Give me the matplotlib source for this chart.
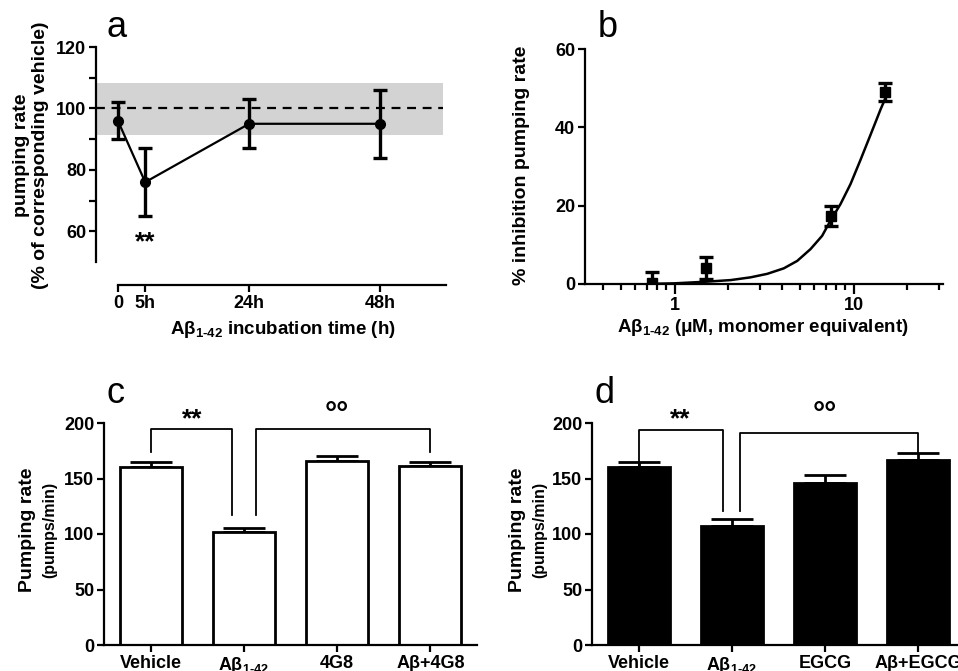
import matplotlib
matplotlib.use("Agg")
import matplotlib.pyplot as plt
from matplotlib.ticker import LogLocator, NullFormatter

# panel a: time course
hours = [0, 5, 24, 48]
hour_labels = ["0", "5h", "24h", "48h"]
rate_pct = [96, 76, 95, 95]
rate_pct_err = [6, 11, 8, 11]
vehicle_band = (91.2, 108.2)

# panel b: dose response (points + fitted curve)
conc_um = [0.75, 1.5, 7.5, 15]
inhibition = [0.3, 4.2, 17.3, 48.9]
inhibition_err = [2.7, 2.8, 2.5, 2.3]
fit_conc = [0.75, 1.0, 1.52, 2.06, 2.66, 3.30, 4.08, 4.85, 5.75, 6.68, 7.44,
            8.46, 9.62, 10.9, 12.4, 14.2, 15.1]
fit_inhib = [0.05, 0.17, 0.6, 1.0, 1.7, 2.6, 4.0, 5.9, 8.9, 12.3, 16.2,
             20.4, 25.5, 31.5, 37.9, 44.7, 47.5]

# panels c and d: bars
groups_c = ["Vehicle", "Aβ$_\\mathbf{1\\text{-}42}$", "4G8", "Aβ+4G8"]
pump_c = [160, 101.5, 166, 161.5]
pump_c_err = [5, 4, 4.5, 3]
groups_d = ["Vehicle", "Aβ$_\\mathbf{1\\text{-}42}$", "EGCG", "Aβ+EGCG"]
pump_d = [160.5, 107, 145.5, 166.5]
pump_d_err = [4.5, 6.5, 7.5, 6.5]

plt.rcParams["font.family"] = ["Liberation Sans", "DejaVu Sans"]
plt.rcParams["font.weight"] = "bold"
plt.rcParams["mathtext.fontset"] = "custom"
plt.rcParams["mathtext.bf"] = "Liberation Sans:bold"
plt.rcParams["mathtext.rm"] = "Liberation Sans:bold"

TICK = 13
LW = 1.6

fig = plt.figure(figsize=(9.58, 6.71), dpi=100)
W, H = 958.0, 671.0


def px(x, y):
    return x / W, 1 - y / H


def style(ax):
    for s in ("top", "right"):
        ax.spines[s].set_visible(False)
    for s in ("left", "bottom"):
        ax.spines[s].set_linewidth(LW)
    ax.tick_params(which="both", direction="out", width=LW, labelsize=TICK, pad=2)
    ax.tick_params(which="major", length=5)
    ax.tick_params(which="minor", length=4)
    for lab in ax.get_xticklabels() + ax.get_yticklabels():
        lab.set_fontweight("bold")


# ---- a
axa = fig.add_axes([96 / W, 1 - 262 / H, 350 / W, 215 / H])
axa.axhspan(*vehicle_band, xmin=0, xmax=0.99, color="#d3d3d3", lw=0, zorder=0)
axa.axhline(100, xmin=0, xmax=0.99, color="black", lw=1.6, ls=(0, (4, 3)), zorder=1)
axa.errorbar(hours, rate_pct, yerr=rate_pct_err, color="black", lw=1.6, marker="o",
             ms=7, elinewidth=2.4, capsize=5, capthick=2.4, zorder=3)
axa.set_xlim(-4, 60)
axa.set_ylim(50, 120)
axa.set_yticks([60, 80, 100, 120])
axa.set_yticks([70, 90, 110], minor=True)
axa.set_xticks(hours)
axa.set_xticklabels(hour_labels)
axa.spines["bottom"].set_position(("outward", 16.5))
axa.spines["bottom"].set_bounds(0, 60)
axa.spines["left"].set_bounds(50, 120)
style(axa)
axa.tick_params(axis="y", which="minor", length=5)
axa.text(5, 56.5, "**", ha="center", va="center", fontsize=19)
fig.text(*px(31, 155), "pumping rate\n(% of corresponding vehicle)", rotation=90,
         ha="center", va="center", fontsize=14, linespacing=1.1)
fig.text(*px(283, 330), "Aβ$_\\mathbf{1\\text{-}42}$ incubation time (h)",
         ha="center", va="center", fontsize=13.5)
fig.text(*px(106, 37), "a", fontsize=26, fontweight="normal", va="baseline")

# ---- b
axb = fig.add_axes([585 / W, 1 - 284 / H, 358 / W, 235 / H])
axb.plot(fit_conc, fit_inhib, color="black", lw=1.8, zorder=2)
axb.errorbar(conc_um, inhibition, yerr=inhibition_err, fmt="s", color="black", ms=7,
             elinewidth=2.4, capsize=5, capthick=2.4, zorder=3)
axb.set_xscale("log")
axb.set_xlim(10 ** -0.5, 10 ** 1.5)
axb.set_ylim(0, 60)
axb.set_yticks([0, 20, 40, 60])
axb.set_xticks([1, 10])
axb.set_xticklabels(["1", "10"])
axb.xaxis.set_minor_locator(LogLocator(base=10, subs=[2, 3, 4, 5, 6, 7, 8, 9]))
axb.xaxis.set_minor_formatter(NullFormatter())
style(axb)
axb.tick_params(axis="x", which="major", length=7)
fig.text(*px(522, 165), "% inhibition pumping rate", rotation=90,
         ha="center", va="center", fontsize=14)
fig.text(*px(763, 328), "Aβ$_\\mathbf{1\\text{-}42}$ (μM, monomer equivalent)",
         ha="center", va="center", fontsize=13.5)
fig.text(*px(598, 37), "b", fontsize=26, fontweight="normal", va="baseline")


# ---- c, d
def bar_panel(left_px, names, vals, errs, face, brackets, letter, lab_x):
    ax = fig.add_axes([left_px / W, 1 - 645 / H, 373 / W, 222 / H])
    x = list(range(len(vals)))
    ax.bar(x, vals, width=0.667, color=face, edgecolor="black", lw=2, zorder=2)
    ax.errorbar(x, vals, yerr=[[0] * len(errs), errs], fmt="none", ecolor="black",
                elinewidth=2, capsize=15, capthick=2, zorder=1)
    ax.set_xlim(-0.5, 3.5)
    ax.set_ylim(0, 200)
    ax.set_yticks([0, 50, 100, 150, 200])
    ax.set_xticks(x)
    ax.set_xticklabels(names)
    style(ax)
    ax.tick_params(axis="x", length=5, labelsize=TICK, pad=2)
    for (x0, y0, x1, y1, top) in brackets:
        ax.plot([x0, x0, x1, x1], [y0, top, top, y1], color="black", lw=1.3,
                clip_on=False, zorder=3)
    ax.text(0.45, 203, "**", ha="center", va="center", fontsize=19, clip_on=False)
    ax.text(2.0, 207, "°°", ha="center", va="center", fontsize=22, clip_on=False)
    fig.text(*px(lab_x, 530), "Pumping rate", rotation=90, ha="center", va="center",
             fontsize=14)
    fig.text(*px(lab_x + 23, 530), "(pumps/min)", rotation=90, ha="center",
             va="center", fontsize=11.5)
    fig.text(*px(left_px + 2, 403), letter, fontsize=26, fontweight="normal",
             va="baseline")
    return ax


bar_panel(104, groups_c, pump_c, pump_c_err, "white",
          [(0, 174, 0.87, 117, 195), (1.13, 117, 3.0, 174, 195)], "c", 27)
bar_panel(592, groups_d, pump_d, pump_d_err, "black",
          [(0, 161, 0.9, 121, 194), (1.09, 121, 3.0, 173, 191)], "d", 517)

fig.savefig("out.png", dpi=100)
